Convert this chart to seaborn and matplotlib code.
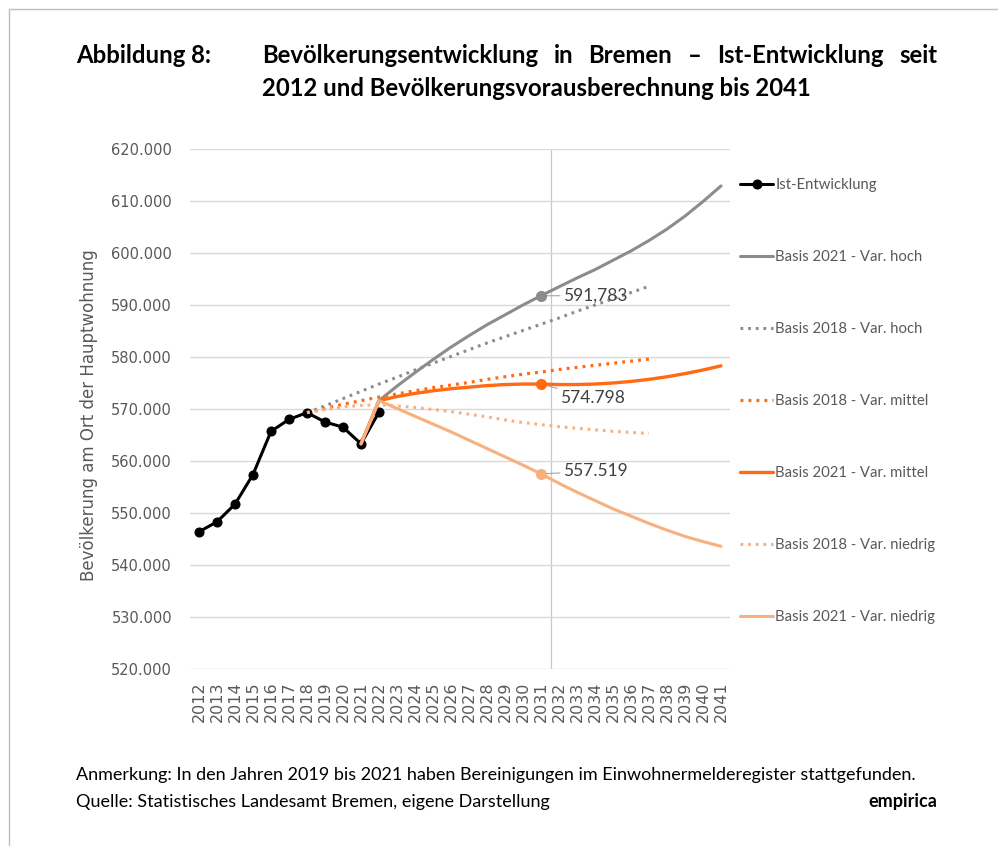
import matplotlib
matplotlib.use("Agg")
import matplotlib.pyplot as plt
import seaborn as sns
import pandas as pd
from matplotlib.lines import Line2D
from matplotlib.ticker import FuncFormatter

# Ist-Entwicklung (Einwohner am Ort der Hauptwohnung)
years_ist = list(range(2012, 2023))
ist = [546400, 548300, 551700, 557400, 565700, 568000, 569300, 567500, 566500, 563300, 569400]

# Vorausberechnung Basis 2021 (2021-2041)
years_2021 = list(range(2021, 2042))
hoch_2021 = [563300, 571600, 574400, 577000, 579500, 581900, 584100, 586200, 588100, 590000,
             591783, 593500, 595200, 596800, 598600, 600400, 602400, 604600, 607100, 609900, 612900]
mittel_2021 = [563300, 571600, 572400, 573000, 573500, 573900, 574200, 574500, 574700, 574800,
               574798, 574700, 574700, 574800, 575000, 575300, 575700, 576200, 576800, 577500, 578300]
niedrig_2021 = [563300, 571600, 570100, 568600, 567100, 565600, 564000, 562400, 560800, 559200,
                557519, 555700, 554000, 552400, 550800, 549400, 548000, 546700, 545500, 544500, 543600]

# Vorausberechnung Basis 2018 (2018-2037)
years_2018 = list(range(2018, 2038))
hoch_2018 = [569300, 570600, 572000, 573400, 574800, 576100, 577500, 578800, 580100, 581400,
             582700, 583900, 585100, 586300, 587500, 588800, 590000, 591200, 592400, 593600]
mittel_2018 = [569300, 570100, 570900, 571600, 572300, 572900, 573500, 574100, 574600, 575100,
               575700, 576200, 576700, 577100, 577600, 578000, 578400, 578800, 579200, 579600]
niedrig_2018 = [569300, 569900, 570400, 570700, 570800, 570600, 570300, 569900, 569500, 569000,
                568500, 567900, 567400, 567000, 566600, 566300, 566000, 565700, 565500, 565300]

# hervorgehobene Werte 2031 mit Beschriftung
mark_year = 2031
mark_labels = ["591,783", "574.798", "557.519"]

all_years = list(range(2012, 2042))
y_ticks = list(range(520000, 620001, 10000))

GREY = "#8C8C8C"
ORANGE = "#FF6A13"
PEACH = "#F7B07F"
TXT = "#595959"

sns.set_theme(style="white")
plt.rcParams["font.family"] = ["DejaVu Sans"]

fig = plt.figure(figsize=(9.98, 8.46), dpi=100)
ax = fig.add_axes([190 / 998, 1 - 669 / 846, 540 / 998, 520 / 846])

series = [
    ("Ist-Entwicklung", years_ist, ist, "black", "-", 2.2, "o"),
    ("Basis 2021 - Var. hoch", years_2021, hoch_2021, GREY, "-", 2.2, None),
    ("Basis 2018 - Var. hoch", years_2018, hoch_2018, GREY, (0, (0.9, 1.6)), 2.2, None),
    ("Basis 2018 - Var. mittel", years_2018, mittel_2018, ORANGE, (0, (0.9, 1.6)), 2.3, None),
    ("Basis 2021 - Var. mittel", years_2021, mittel_2021, ORANGE, "-", 2.4, None),
    ("Basis 2018 - Var. niedrig", years_2018, niedrig_2018, PEACH, (0, (0.9, 1.6)), 2.2, None),
    ("Basis 2021 - Var. niedrig", years_2021, niedrig_2021, PEACH, "-", 2.2, None),
]

for label, xs, ys, col, ls, lw, mk in series:
    df = pd.DataFrame({"Jahr": xs, "Einwohner": ys})
    sns.lineplot(data=df, x="Jahr", y="Einwohner", ax=ax, color=col, linestyle=ls,
                 linewidth=lw, marker=mk, markersize=6.5 if mk else None,
                 markeredgecolor=col, label=label, legend=False)

# Markierung 2031 mit Beschriftungen
mark_series = [(hoch_2021, GREY), (mittel_2021, ORANGE), (niedrig_2021, PEACH)]
offsets = [(16, 0), (14, -10), (16, 2)]
idx = years_2021.index(mark_year)
for (vals, col), txt, off in zip(mark_series, mark_labels, offsets):
    v = vals[idx]
    ax.plot([mark_year], [v], marker="o", markersize=7, color=col, zorder=5)
    ax.annotate(txt, xy=(mark_year, v), xytext=off, textcoords="offset points",
                fontsize=12.5, color="#404040", family="Lato", va="center", ha="left",
                arrowprops=dict(arrowstyle="-", color="#A6A6A6", lw=0.8,
                                shrinkA=0, shrinkB=2))

ax.axvline(2031.55, color="#C8C8C8", lw=0.9, zorder=0)

ax.set_xlim(2011.5, 2041.5)
ax.set_ylim(520000, 620000)
ax.set_xticks(all_years)
ax.set_xticklabels([str(y) for y in all_years], rotation=90)
ax.set_yticks(y_ticks)
ax.yaxis.set_major_formatter(FuncFormatter(lambda v, p: f"{v:,.0f}".replace(",", ".")))
ax.grid(axis="y", color="#D9D9D9", lw=1.0)
ax.grid(axis="x", visible=False)
for s in ax.spines.values():
    s.set_visible(False)
ax.tick_params(axis="both", length=0, colors=TXT)
ax.tick_params(axis="y", labelsize=10.5, pad=13)
ax.tick_params(axis="x", labelsize=11.5, pad=9)
ax.set_xlabel("")
ax.set_ylabel("Bevölkerung am Ort der Hauptwohnung", fontsize=12, color=TXT)
ax.yaxis.set_label_coords(-0.170, 0.488)

leg = ax.legend(loc="upper left", bbox_to_anchor=(733 / 998, 1 - 171 / 846),
                bbox_transform=fig.transFigure, frameon=False, borderpad=0,
                handlelength=2.2, handletextpad=0.15, labelspacing=3.9,
                prop={"family": "Lato", "size": 10.7}, labelcolor=TXT)

# Titel (Blocksatz in der ersten Zeile)
title_kw = dict(fontsize=17.2, fontweight="bold", family="Lato", color="black", va="baseline")
fig.text(76 / 998, 1 - 63 / 846, "Abbildung 8:", **title_kw)
words = ["Bevölkerungsentwicklung", "in", "Bremen", "–", "Ist-Entwicklung", "seit"]
r = fig.canvas.get_renderer()
texts = [fig.text(0, 1 - 63 / 846, w, **title_kw) for w in words]
widths = [t.get_window_extent(r).width for t in texts]
x0, x1 = 262, 937
gap = ((x1 - x0) - sum(widths)) / (len(words) - 1)
x = x0
for t, w in zip(texts, widths):
    t.set_x(x / 998)
    x += w + gap
fig.text(262 / 998, 1 - 96 / 846, "2012 und Bevölkerungsvorausberechnung bis 2041", **title_kw)

# Fußnoten
foot_kw = dict(fontsize=13, family="Lato", color="black", va="baseline")
fig.text(76 / 998, 1 - 780 / 846,
         "Anmerkung: In den Jahren 2019 bis 2021 haben Bereinigungen im Einwohnermelderegister stattgefunden.",
         **foot_kw)
fig.text(76 / 998, 1 - 807 / 846, "Quelle: Statistisches Landesamt Bremen, eigene Darstellung", **foot_kw)
fig.text(937 / 998, 1 - 807 / 846, "empirica", ha="right", fontsize=13, fontweight="bold",
         family="Lato", color="black", va="baseline")

# Rahmen links und oben
fig.add_artist(Line2D([9 / 998, 9 / 998], [0, 1 - 9 / 846], transform=fig.transFigure,
                      color="#BFBFBF", lw=1))
fig.add_artist(Line2D([9 / 998, 1], [1 - 9 / 846, 1 - 9 / 846], transform=fig.transFigure,
                      color="#BFBFBF", lw=1))

fig.savefig("out.png", dpi=100)
